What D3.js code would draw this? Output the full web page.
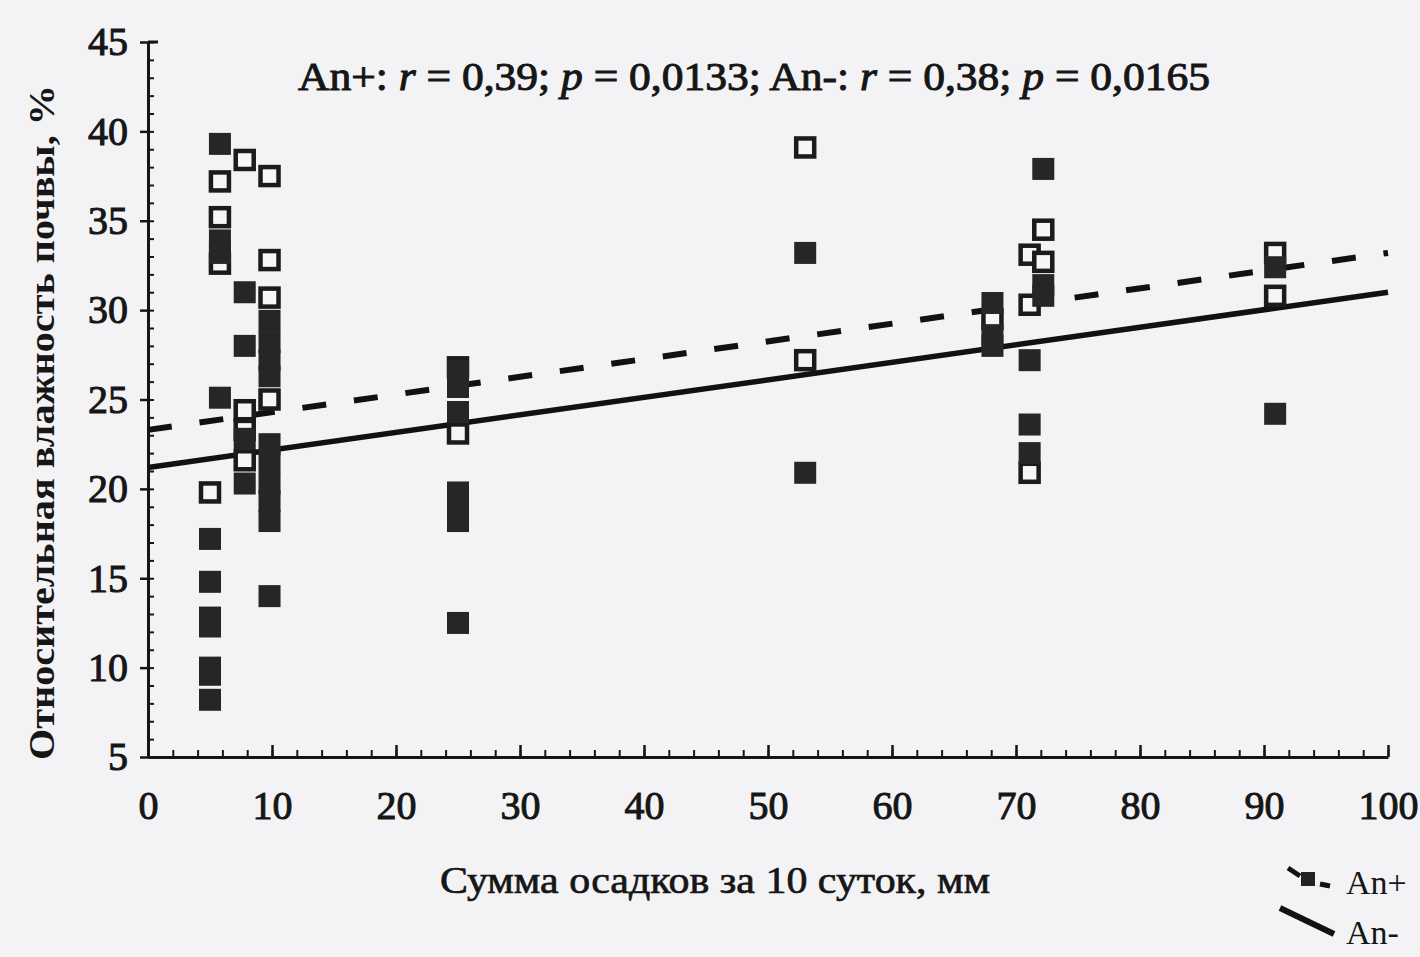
<!DOCTYPE html>
<html>
<head>
<meta charset="utf-8">
<script src="https://cdn.jsdelivr.net/npm/d3@7"></script>
<style>
  body { margin: 0; background: #f3f3f5; }
  svg { display: block; }
  text { fill: #161616; font-family: "Liberation Serif", "DejaVu Serif", serif; }
  .axis path, .axis line { stroke: #161616; }
  .axis text { font-size: 40px; stroke: #161616; stroke-width: 1px; }
</style>
</head>
<body>
<svg id="chart" width="1420" height="957"></svg>
<script>
// An+ (filled squares)
var anPlusX = [5.8, 5.8, 5.8, 5.8,
               5.0, 5.0, 5.0, 5.0, 5.0, 5.0, 5.0,
               7.8, 7.8, 7.8, 7.8,
               9.8, 9.8, 9.8, 9.8, 9.8, 9.8, 9.8, 9.8, 9.8, 9.8,
               25, 25, 25, 25, 25, 25, 25,
               53, 53,
               68.1, 68.1, 68.1,
               72.2, 72.2, 72.2, 71.1, 71.1, 71.1,
               90.9, 90.9];
var anPlusY = [39.3, 33.9, 33.2, 25.1,
               17.2, 14.8, 12.8, 12.3, 10.0, 9.6, 8.2,
               31.0, 28.0, 22.8, 20.3,
               29.4, 28.2, 27.2, 26.3, 22.5, 21.5, 20.3, 19.3, 18.2, 14.0,
               26.6, 25.7, 24.3, 19.8, 19.0, 18.2, 12.5,
               33.2, 20.9,
               30.4, 28.6, 28.0,
               37.9, 31.4, 30.8, 27.2, 23.6, 22.0,
               32.4, 24.2];

// An- (open squares)
var anMinusX = [5.8, 5.8, 5.8,
                7.8, 7.8, 7.8, 7.8,
                9.8, 9.8, 9.8, 9.8,
                5.0,
                25, 25,
                53, 53,
                68.1,
                72.2, 71.1, 72.2, 71.1, 71.1,
                90.9, 90.9];
var anMinusY = [37.2, 35.2, 32.6,
                38.4, 24.4, 23.3, 21.6,
                37.5, 32.8, 30.7, 25.0,
                19.8,
                26.8, 23.1,
                39.1, 27.2,
                29.5,
                34.5, 33.1, 32.7, 30.3, 20.9,
                33.2, 30.8];

// regression lines: value at x = 0 and x = 100
var trendX = [0, 100];
var trendPlus = [23.3, 33.2];
var trendMinus = [21.2, 31.0];

var xTicks = [0, 10, 20, 30, 40, 50, 60, 70, 80, 90, 100];
var yTicks = [5, 10, 15, 20, 25, 30, 35, 40, 45];

var svg = d3.select("#chart");
var x = d3.scaleLinear().domain([0, 100]).range([148, 1388]);
var y = d3.scaleLinear().domain([5, 45]).range([757, 42]);

// minor ticks
svg.append("g")
  .attr("class", "axis")
  .attr("transform", "translate(0,757)")
  .call(d3.axisBottom(x).tickValues(d3.range(0, 101, 2)).tickSize(-7).tickSizeOuter(0).tickFormat(""))
  .call(function(g){ g.select(".domain").remove(); })
  .selectAll("line").attr("stroke-width", 2);

svg.append("g")
  .attr("class", "axis")
  .attr("transform", "translate(148,0)")
  .call(d3.axisLeft(y).tickValues(d3.range(5, 46, 1)).tickSize(-6).tickSizeOuter(0).tickFormat(""))
  .call(function(g){ g.select(".domain").remove(); })
  .selectAll("line").attr("stroke-width", 2);

// major ticks + labels
var xAxis = svg.append("g")
  .attr("class", "axis")
  .attr("transform", "translate(0,757)")
  .call(d3.axisBottom(x).tickValues(xTicks).tickSize(-12).tickSizeOuter(0).tickPadding(34));
xAxis.select(".domain").attr("stroke-width", 3);
xAxis.selectAll("line").attr("stroke-width", 2.5);

var yAxis = svg.append("g")
  .attr("class", "axis")
  .attr("transform", "translate(148,0)")
  .call(d3.axisLeft(y).tickValues(yTicks).tickSize(8).tickSizeOuter(0).tickPadding(12));
yAxis.select(".domain").attr("stroke-width", 3);
yAxis.selectAll("line").attr("stroke-width", 2.5);
yAxis.selectAll("text").attr("dy", "0.32em");

// end cap of the frame
svg.append("line").attr("x1", x(0)).attr("x2", x(0) + 10).attr("y1", y(45)).attr("y2", y(45))
  .attr("stroke", "#161616").attr("stroke-width", 3);

// trend lines
var line = d3.line().x(function(d){ return x(d[0]); }).y(function(d){ return y(d[1]); });
svg.append("path")
  .datum(d3.zip(trendX, trendMinus))
  .attr("d", line)
  .attr("fill", "none").attr("stroke", "#111").attr("stroke-width", 5.5);
svg.append("path")
  .datum(d3.zip(trendX, trendPlus))
  .attr("d", line)
  .attr("fill", "none").attr("stroke", "#111").attr("stroke-width", 6)
  .attr("stroke-dasharray", "24,28");

// points
var s = 22;
svg.append("g").selectAll("rect")
  .data(d3.zip(anMinusX, anMinusY)).enter()
  .append("rect")
    .attr("x", function(d){ return x(d[0]) - s / 2 + 2; })
    .attr("y", function(d){ return y(d[1]) - s / 2 + 2; })
    .attr("width", s - 4).attr("height", s - 4)
    .attr("fill", "#f6f6f8").attr("stroke", "#1b1b1b").attr("stroke-width", 4.5);

svg.append("g").selectAll("rect")
  .data(d3.zip(anPlusX, anPlusY)).enter()
  .append("rect")
    .attr("x", function(d){ return x(d[0]) - s / 2; })
    .attr("y", function(d){ return y(d[1]) - s / 2; })
    .attr("width", s).attr("height", s)
    .attr("fill", "#262626");

// annotation
var note = svg.append("text")
  .attr("x", 298).attr("y", 90)
  .attr("font-size", 40)
  .attr("stroke", "#161616").attr("stroke-width", 1)
  .attr("textLength", 912).attr("lengthAdjust", "spacingAndGlyphs");
note.append("tspan").text("An+: ");
note.append("tspan").attr("font-style", "italic").text("r");
note.append("tspan").text(" = 0,39; ");
note.append("tspan").attr("font-style", "italic").text("p");
note.append("tspan").text(" = 0,0133; An-: ");
note.append("tspan").attr("font-style", "italic").text("r");
note.append("tspan").text(" = 0,38; ");
note.append("tspan").attr("font-style", "italic").text("p");
note.append("tspan").text(" = 0,0165");

// axis titles
svg.append("text")
  .attr("x", 440).attr("y", 893)
  .attr("font-size", 38)
  .attr("stroke", "#161616").attr("stroke-width", 0.7)
  .attr("textLength", 550).attr("lengthAdjust", "spacingAndGlyphs")
  .text("Сумма осадков за 10 суток, мм");

svg.append("text")
  .attr("transform", "translate(54,760) rotate(-90)")
  .attr("font-size", 36).attr("font-weight", "bold")
  .attr("textLength", 675).attr("lengthAdjust", "spacingAndGlyphs")
  .text("Относительная влажность почвы, %");

// legend
var lg = svg.append("g");
lg.append("line").attr("x1", 1288).attr("y1", 868).attr("x2", 1300).attr("y2", 876)
  .attr("stroke", "#111").attr("stroke-width", 5);
lg.append("rect").attr("x", 1301).attr("y", 872).attr("width", 14).attr("height", 14).attr("fill", "#222");
lg.append("line").attr("x1", 1320).attr("y1", 884).attr("x2", 1330).attr("y2", 886)
  .attr("stroke", "#111").attr("stroke-width", 5);
lg.append("text").attr("x", 1346).attr("y", 894).attr("font-size", 34).text("An+");
lg.append("line").attr("x1", 1280).attr("y1", 908).attr("x2", 1334).attr("y2", 934)
  .attr("stroke", "#111").attr("stroke-width", 6);
lg.append("text").attr("x", 1346).attr("y", 944).attr("font-size", 34).text("An-");
</script>
</body>
</html>
